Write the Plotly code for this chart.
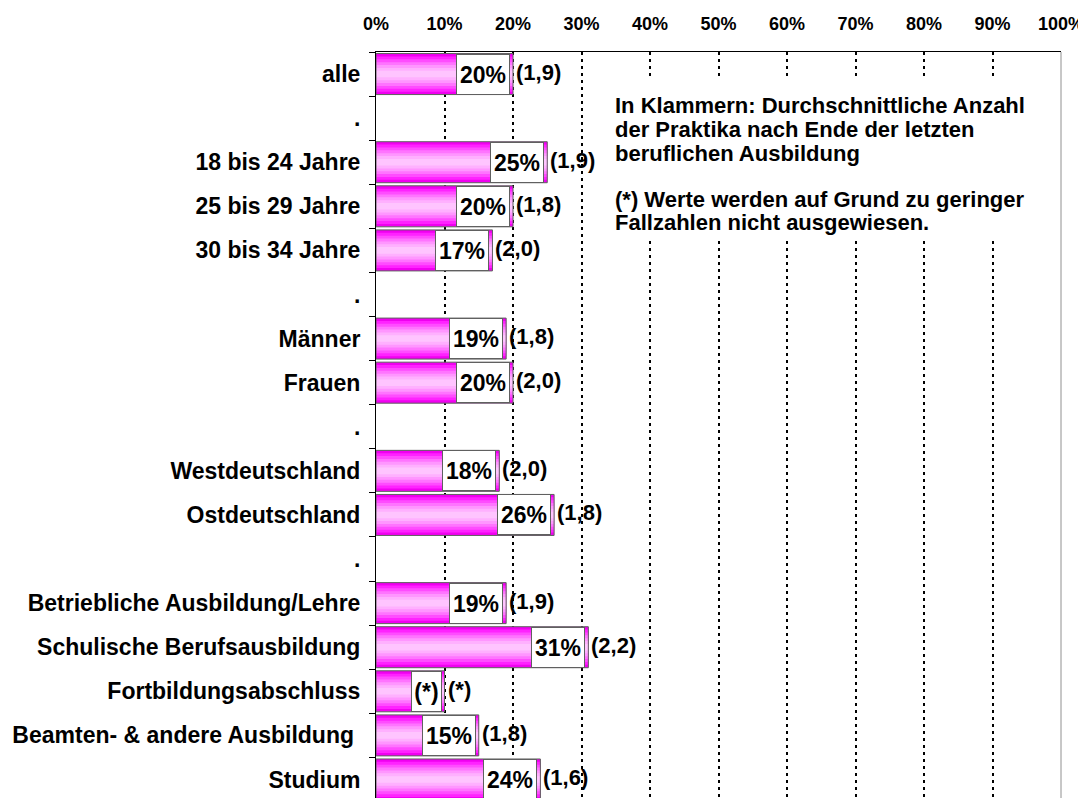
import plotly.graph_objects as go

categories = ["alle", ".", "18 bis 24 Jahre", "25 bis 29 Jahre", "30 bis 34 Jahre", ".",
              "Männer", "Frauen", ".", "Westdeutschland", "Ostdeutschland", ".",
              "Betriebliche Ausbildung/Lehre", "Schulische Berufsausbildung",
              "Fortbildungsabschluss", "Beamten- & andere Ausbildung\u00a0", "Studium"]
share = [20, None, 25, 20, 17, None, 19, 20, None, 18, 26, None, 19, 31, 10, 15, 24]
share_labels = ["20%", "", "25%", "20%", "17%", "", "19%", "20%", "", "18%", "26%", "",
                "19%", "31%", "(*)", "15%", "24%"]
count_labels = ["(1,9)", "", "(1,9)", "(1,8)", "(2,0)", "", "(1,8)", "(2,0)", "", "(2,0)",
                "(1,8)", "", "(1,9)", "(2,2)", "(*)", "(1,8)", "(1,6)"]
x_ticks = [0, 10, 20, 30, 40, 50, 60, 70, 80, 90, 100]
x_ticktext = [f"{t}%" for t in x_ticks]
note_lines = ["In Klammern: Durchschnittliche Anzahl",
              "der Praktika nach Ende der letzten",
              "beruflichen Ausbildung",
              "(*) Werte werden auf Grund zu geringer",
              "Fallzahlen nicht ausgewiesen."]

FONT = "Liberation Sans, Arial, sans-serif"
pos = list(range(len(categories)))
BAR_W = 0.93

fig = go.Figure()
# gradient made of overlaid bars of decreasing thickness
layers = [(1.0, "#f000f0"), (0.86, "#ff22ff"), (0.72, "#ff4cff"),
          (0.58, "#ff74ff"), (0.44, "#ff96ff"), (0.30, "#ffb0ff"), (0.16, "#ffc4ff")]
for frac, col in layers:
    fig.add_trace(go.Bar(x=share, y=pos, orientation="h", width=BAR_W * frac,
                         marker=dict(color=col, line=dict(width=0)),
                         hoverinfo="skip", showlegend=False))
# outline
fig.add_trace(go.Bar(x=share, y=pos, orientation="h", width=BAR_W,
                     marker=dict(color="rgba(0,0,0,0)", line=dict(color="#606060", width=1)),
                     hoverinfo="skip", showlegend=False))

annotations = []
for i, (v, sl, cl) in enumerate(zip(share, share_labels, count_labels)):
    if v is None:
        continue
    annotations.append(dict(x=v, y=i, xref="x", yref="y", text=sl, showarrow=False,
                            xanchor="right", yanchor="middle", xshift=-3,
                            width=29 if sl == "(*)" else 52, height=39, align="center",
                            bgcolor="white", bordercolor="#606060", borderwidth=1, borderpad=0,
                            font=dict(family=FONT, size=23, color="black", weight="bold")))
    annotations.append(dict(x=v, y=i, xref="x", yref="y", text=cl, showarrow=False,
                            xanchor="left", yanchor="middle", xshift=1, yshift=2,
                            font=dict(family=FONT, size=22, color="black", weight="bold")))

# note text lines
note_y = [0.9283, 0.8961, 0.8633, 0.8023, 0.7714]
for txt, yy in zip(note_lines, note_y):
    annotations.append(dict(x=0.346, y=yy, xref="x domain", yref="y domain", text=txt,
                            showarrow=False, xanchor="left", yanchor="middle",
                            font=dict(family=FONT, size=22, color="black", weight="bold")))

shapes = [
    dict(type="rect", xref="x domain", yref="y domain", x0=0.334, x1=0.984, y0=0.748, y1=0.9625,
         fillcolor="white", line=dict(width=0), layer="above"),
    dict(type="line", xref="x domain", yref="y domain", x0=1, x1=1, y0=0, y1=1,
         line=dict(color="#909090", width=1), layer="below"),
]

# the page body has an 8px margin, so the figure is sized/offset to compensate
fig.update_layout(
    width=1078, height=790,
    margin=dict(l=368, r=25, t=44, b=0),
    paper_bgcolor="white", plot_bgcolor="white",
    barmode="overlay", bargap=0.07,
    annotations=annotations, shapes=shapes,
    font=dict(family=FONT, color="black"),
)
fig.update_xaxes(side="top", range=[0, 100], tickvals=x_ticks, ticktext=x_ticktext,
                 showgrid=True, gridcolor="black", gridwidth=2, griddash="3px,4px",
                 showline=True, linecolor="black", linewidth=1, ticks="",
                 ticklabelstandoff=14, zeroline=False,
                 tickfont=dict(family=FONT, size=18, color="black", weight="bold"))
fig.update_yaxes(range=[16.42, -0.5], tickvals=pos, ticktext=categories,
                 showgrid=False, zeroline=False, showline=True, linecolor="black", linewidth=1,
                 ticks="", ticklabelstandoff=10,
                 minor=dict(tickmode="linear", tick0=-0.5, dtick=1, ticks="outside",
                            ticklen=6, tickcolor="black", tickwidth=1, showgrid=False),
                 tickfont=dict(family=FONT, size=23, color="black", weight="bold"))

fig.write_html("out.html")
